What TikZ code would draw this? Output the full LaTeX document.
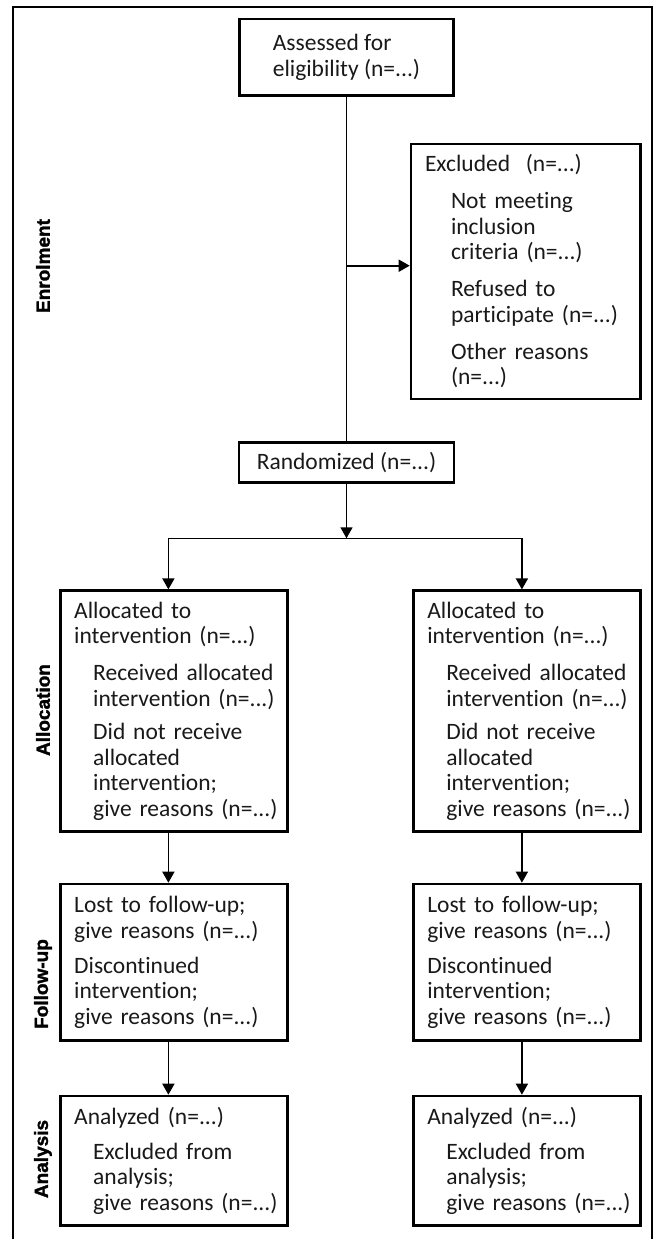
\documentclass[tikz,border=0pt]{standalone}
\usepackage{fontspec}
\setmainfont{Carlito}[Ligatures={NoCommon}]
\newfontfamily\lblfont{Liberation Sans Bold}[FakeBold=1.6]
\usetikzlibrary{arrows.meta}
\newcommand{\ccline}[1]{\mbox{#1}}
\newcommand{\ccind}[2]{\hspace*{#1pt}\mbox{#2}}
\begin{document}
\begin{tikzpicture}[x=1pt,y=-1pt,
  box/.style={draw, line width=2.6pt, rectangle, inner ysep=0pt, inner xsep=14pt,
    font=\fontsize{23.5}{25.5}\selectfont, text=black!90},
  lbox/.style={box, align=left, minimum width=227.3pt, text width=199.3pt},
  conn/.style={line width=1.6pt},
  arr/.style={conn, -{Triangle[length=11pt,width=12pt]}},
  phase/.style={rotate=90, inner sep=0pt, font=\lblfont\fontsize{19}{21}\selectfont}
]
\useasboundingbox (0,0) rectangle (657,1239);
% outer frame (open at the bottom)
\draw[line width=2pt] (12.5,1239) -- (12.5,7.5) -- (652.3,7.5) -- (652.3,1239);

% phase labels
\node[phase] (lenr) at (43,266) {Enrolment};
\node[phase] (lall) at (43,710) {Allocation};
\node[phase] (lfol) at (43,984) {Follow-up};
\node[phase] (lana) at (43,1159) {Analysis};

% boxes
\node[box, align=left, minimum width=213.8pt, minimum height=76.7pt] (assess) at (346.5,57.35)
  {Assessed for\\eligibility (n=...)};
\node[lbox, minimum width=229.6pt, text width=201.6pt, minimum height=255pt] (excl) at (525.8,271.5)
  {\ccline{Excluded\ \ (n=...)}\\[11.5pt]
   \ccind{26}{Not meeting}\\
   \ccind{26}{inclusion}\\
   \ccind{26}{criteria (n=...)}\\[11.5pt]
   \ccind{26}{Refused to}\\
   \ccind{26}{participate (n=...)}\\[11.5pt]
   \ccind{26}{Other reasons}\\
   \ccind{26}{(n=...)}};
\node[box, minimum width=214.7pt, minimum height=40.4pt] (rand) at (346.5,462.5) {Randomized (n=...)};

\foreach \nm/\cx in {1/173.85, 2/526.95}{
  \node[lbox, minimum height=241pt] (alloc\nm) at (\cx,711.2)
    {\ccline{Allocated to}\\
     \ccline{intervention (n=...)}\\[11.5pt]
     \ccind{19}{Received allocated}\\
     \ccind{19}{intervention (n=...)}\\[8pt]
     \ccind{19}{Did not receive}\\
     \ccind{19}{allocated}\\
     \ccind{19}{intervention;}\\
     \ccind{19}{give reasons (n=...)}};
  \node[lbox, minimum height=156.7pt] (fu\nm) at (\cx,962.35)
    {\ccline{Lost to follow-up;}\\
     \ccline{give reasons (n=...)}\\[9.5pt]
     \ccline{Discontinued}\\
     \ccline{intervention;}\\
     \ccline{give reasons (n=...)}};
  \node[lbox, minimum height=129.7pt] (an\nm) at (\cx,1160.85)
    {\ccline{Analyzed (n=...)}\\[9.5pt]
     \ccind{19}{Excluded from}\\
     \ccind{19}{analysis;}\\
     \ccind{19}{give reasons (n=...)}};
}

% connectors
\coordinate (jx) at (346.5,265.7);
\coordinate (split) at (346.5,538.3);
\coordinate (sl) at (168.4,538.3);
\coordinate (sr) at (521.9,538.3);
\draw[conn] (assess.south) -- (rand.north);
\draw[arr] (jx) -- (jx -| excl.west);
\draw[arr] (rand.south) -- (split);
\draw[conn] (sl) -- (sr);
\draw[arr] (sl) -- (sl |- alloc1.north);
\draw[arr] (sr) -- (sr |- alloc2.north);
\draw[arr] (sl |- alloc1.south) -- (sl |- fu1.north);
\draw[arr] (sr |- alloc2.south) -- (sr |- fu2.north);
\draw[arr] (sl |- fu1.south) -- (sl |- an1.north);
\draw[arr] (sr |- fu2.south) -- (sr |- an2.north);
\end{tikzpicture}
\end{document}
